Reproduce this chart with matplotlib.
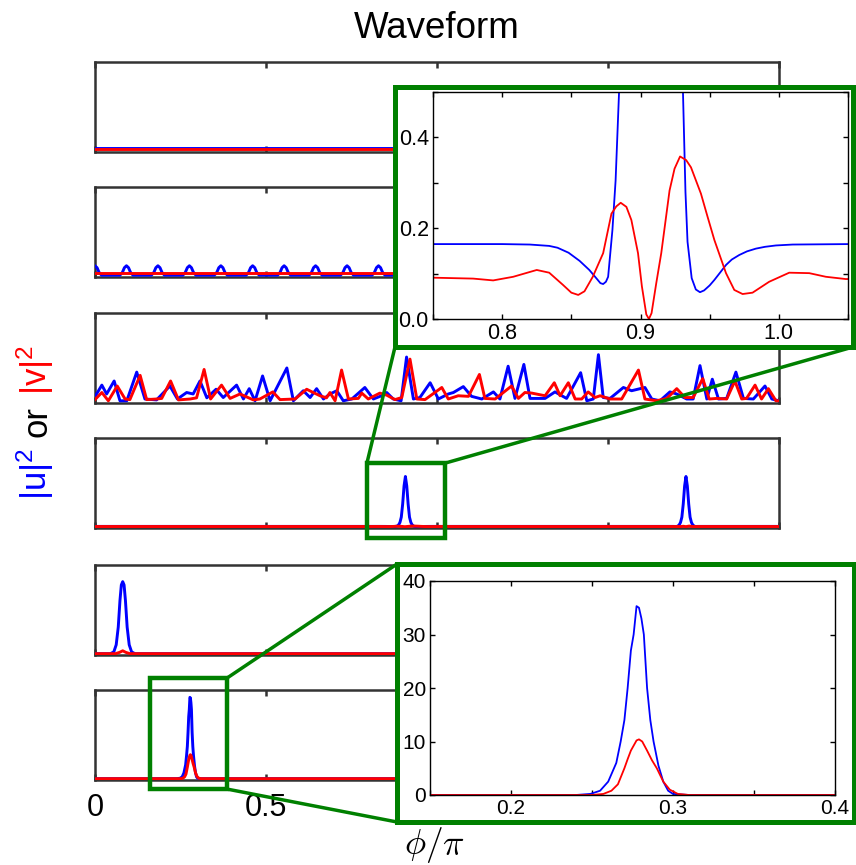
import matplotlib
matplotlib.use('Agg')
import matplotlib.pyplot as plt
from matplotlib.patches import Rectangle, ConnectionPatch
from matplotlib.ticker import MultipleLocator

plt.rcParams['font.family'] = ['Liberation Sans', 'DejaVu Sans']
plt.rcParams['mathtext.fontset'] = 'cm'

W, H = 856, 865
BLUE = '#0000ff'
RED = '#ff0000'
GREEN = '#008000'
FRAME = '#333333'

x_ticks = [0, 0.5, 1, 1.5, 2]
x_ticklabels = ['0', '0.5', '1', '1.5', '2']

# panel 1: flat continuous-wave background
p1_x = [0.0, 2.0]
p1_blue = [0.165, 0.165]
p1_red = [0.09, 0.09]

# panel 2: small periodic bumps on |u|^2, flat |v|^2
p2_bump_centers = [0.000, 0.092, 0.184, 0.276, 0.368, 0.461, 0.553, 0.645, 0.737, 0.829, 0.921,
                   1.013, 1.105, 1.197, 1.289, 1.382, 1.474, 1.566, 1.658, 1.750, 1.842, 1.934]
p2_bump_dx = [-0.019, -0.012, -0.006, 0.0, 0.006, 0.012, 0.019]
p2_bump_y = [0.03, 0.18, 0.45, 0.56, 0.45, 0.18, 0.03]
p2_red_x = [0.0, 2.0]
p2_red = [0.17, 0.17]

# panel 3: turbulent field
p3_blue = [(0.000, 0.17), (0.020, 0.56), (0.034, 0.26), (0.056, 0.70), (0.073, 0.03), (0.093, 0.03),
           (0.122, 1.00), (0.146, 0.09), (0.180, 0.06), (0.219, 0.53), (0.241, 0.09), (0.268, 0.31),
           (0.287, 0.26), (0.307, 0.70), (0.327, 0.13), (0.354, 0.42), (0.375, 0.14), (0.414, 0.56),
           (0.434, 0.09), (0.451, 0.44), (0.468, 0.03), (0.490, 0.87), (0.512, 0.03), (0.561, 1.14),
           (0.580, 0.03), (0.609, 0.37), (0.629, 0.14), (0.648, 0.44), (0.668, 0.09), (0.687, 0.26),
           (0.707, 0.37), (0.726, 0.03), (0.751, 0.09), (0.789, 0.48), (0.814, 0.09), (0.838, 0.20),
           (0.853, 0.31), (0.872, 0.09), (0.895, 0.03), (0.911, 1.51), (0.931, 0.09), (0.950, 0.14),
           (0.980, 0.64), (1.004, 0.09), (1.033, 0.26), (1.048, 0.31), (1.077, 0.51), (1.101, 0.18),
           (1.131, 0.09), (1.165, 0.33), (1.184, 0.09), (1.208, 1.20), (1.228, 0.11), (1.254, 1.26),
           (1.272, 0.11), (1.316, 0.11), (1.345, 0.33), (1.365, 0.20), (1.379, 0.11), (1.420, 0.98),
           (1.438, 0.03), (1.457, 0.09), (1.472, 1.59), (1.486, 0.14), (1.506, 0.11), (1.545, 0.48),
           (1.569, 0.37), (1.608, 0.48), (1.628, 0.09), (1.652, 0.03), (1.681, 0.33), (1.701, 0.26),
           (1.730, 0.09), (1.749, 0.09), (1.769, 1.22), (1.789, 0.09), (1.805, 0.76), (1.823, 0.09),
           (1.847, 0.11), (1.874, 1.00), (1.896, 0.11), (1.925, 0.09), (1.959, 0.53), (1.979, 0.09),
           (2.000, 0.03)]
p3_red = [(0.000, 0.07), (0.020, 0.31), (0.039, 0.03), (0.065, 0.53), (0.088, 0.09), (0.102, 0.07),
          (0.132, 0.89), (0.151, 0.07), (0.180, 0.09), (0.195, 0.11), (0.221, 0.70), (0.244, 0.06),
          (0.278, 0.09), (0.297, 0.13), (0.319, 1.09), (0.338, 0.09), (0.370, 0.56), (0.395, 0.11),
          (0.424, 0.26), (0.463, 0.06), (0.482, 0.09), (0.520, 0.33), (0.541, 0.07), (0.585, 0.09),
          (0.619, 0.42), (0.638, 0.31), (0.658, 0.20), (0.677, 0.13), (0.687, 0.31), (0.702, 0.03),
          (0.721, 1.07), (0.741, 0.09), (0.770, 0.11), (0.780, 0.29), (0.799, 0.09), (0.833, 0.29),
          (0.853, 0.22), (0.877, 0.07), (0.897, 0.14), (0.921, 1.44), (0.941, 0.09), (0.965, 0.07),
          (1.014, 0.48), (1.033, 0.09), (1.062, 0.20), (1.092, 0.18), (1.124, 0.92), (1.140, 0.11),
          (1.170, 0.09), (1.218, 0.53), (1.238, 0.11), (1.257, 0.31), (1.277, 0.29), (1.316, 0.20),
          (1.343, 0.64), (1.360, 0.20), (1.384, 0.64), (1.404, 0.09), (1.423, 0.09), (1.442, 0.33),
          (1.462, 0.14), (1.477, 0.20), (1.506, 0.09), (1.540, 0.09), (1.589, 1.07), (1.608, 0.09),
          (1.642, 0.03), (1.672, 0.11), (1.701, 0.44), (1.725, 0.14), (1.749, 0.14), (1.777, 0.78),
          (1.796, 0.09), (1.818, 0.11), (1.847, 0.09), (1.871, 0.70), (1.891, 0.09), (1.905, 0.11),
          (1.930, 0.56), (1.949, 0.09), (1.969, 0.44), (1.991, 0.03), (2.000, 0.03)]

# panel 4: two bright peaks on the background (zoomed in inset 1)
p4_blue = [(0.000, 0.165), (0.750, 0.165), (0.800, 0.165), (0.820, 0.164), (0.834, 0.161),
           (0.840, 0.157), (0.848, 0.146), (0.856, 0.128), (0.863, 0.108), (0.868, 0.090),
           (0.871, 0.079), (0.873, 0.077), (0.875, 0.082), (0.8766, 0.093), (0.8797, 0.196),
           (0.882, 0.305), (0.8845, 0.50), (0.8876, 1.0), (0.8916, 2.5), (0.8956, 5.7), (0.8996, 13.5),
           (0.9036, 24.3), (0.9076, 30.0), (0.9116, 24.3), (0.9156, 13.5), (0.9196, 5.7), (0.9236, 2.5),
           (0.9276, 1.0), (0.9307, 0.50), (0.9325, 0.28), (0.934, 0.17), (0.937, 0.09), (0.940, 0.065),
           (0.943, 0.059), (0.946, 0.063), (0.950, 0.074), (0.9534, 0.086), (0.958, 0.104),
           (0.9618, 0.119), (0.966, 0.131), (0.9714, 0.141), (0.977, 0.149), (0.9834, 0.155),
           (0.990, 0.159), (0.9979, 0.162), (1.010, 0.164), (1.050, 0.165),
           (1.690, 0.165), (1.697, 0.120), (1.701, 0.080), (1.7049, 0.50), (1.708, 1.0), (1.712, 2.5),
           (1.716, 5.7), (1.720, 13.5), (1.724, 24.3), (1.728, 30.0), (1.732, 24.3), (1.736, 13.5),
           (1.740, 5.7), (1.744, 2.5), (1.748, 1.0), (1.7511, 0.50), (1.755, 0.080), (1.762, 0.150),
           (1.772, 0.165), (2.000, 0.165)]
p4_red = [(0.000, 0.091), (0.750, 0.091), (0.779, 0.089), (0.7935, 0.085), (0.808, 0.093), (0.825, 0.108),
          (0.834, 0.102), (0.844, 0.075), (0.850, 0.058), (0.855, 0.053), (0.8595, 0.061), (0.8655, 0.093),
          (0.873, 0.145), (0.879, 0.232), (0.8825, 0.248), (0.8857, 0.256), (0.8898, 0.247),
          (0.8934, 0.218), (0.8982, 0.145), (0.901, 0.072), (0.9042, 0.010), (0.9061, 0.0),
          (0.908, 0.013), (0.9114, 0.079), (0.915, 0.145), (0.921, 0.283), (0.9246, 0.331),
          (0.9286, 0.358), (0.933, 0.350), (0.9365, 0.334), (0.9437, 0.276), (0.9485, 0.225),
          (0.9534, 0.174), (0.9618, 0.101), (0.9678, 0.064), (0.9738, 0.055), (0.981, 0.058),
          (0.993, 0.082), (1.0075, 0.102), (1.022, 0.101), (1.034, 0.093), (1.0484, 0.088),
          (1.100, 0.090), (1.700, 0.090), (1.712, 0.060), (1.720, 0.250), (1.728, 0.020), (1.737, 0.350),
          (1.750, 0.060), (1.765, 0.090), (2.000, 0.090)]

# panel 5: single soliton near phi/pi = 0.08
p5_blue = [(0.000, 0.0), (0.045, 0.0), (0.055, 0.8), (0.062, 4.0), (0.068, 12.0), (0.073, 24.0),
           (0.077, 31.0), (0.081, 32.5), (0.085, 31.0), (0.089, 24.0), (0.094, 12.0), (0.100, 4.0),
           (0.107, 0.8), (0.117, 0.0), (2.000, 0.0)]
p5_red = [(0.000, 0.0), (0.060, 0.0), (0.072, 0.6), (0.081, 1.3), (0.090, 0.6), (0.102, 0.0), (2.000, 0.0)]

# panel 6: soliton near phi/pi = 0.28 (zoomed in inset 2)
p6_blue = [(0.000, 0.0), (0.240, 0.0), (0.249, 0.2), (0.255, 0.8), (0.260, 2.5), (0.265, 6.0),
           (0.2677, 10.0), (0.270, 14.0), (0.272, 20.0), (0.274, 27.0), (0.2757, 30.0), (0.2775, 35.3),
           (0.279, 35.0), (0.2805, 33.0), (0.282, 30.0), (0.284, 20.0), (0.286, 14.0), (0.288, 10.0),
           (0.291, 5.5), (0.294, 2.5), (0.297, 0.8), (0.300, 0.2), (0.310, 0.0), (2.000, 0.0)]
p6_red = [(0.000, 0.0), (0.250, 0.0), (0.257, 0.2), (0.262, 0.8), (0.266, 2.0), (0.270, 5.0),
          (0.272, 6.7), (0.274, 8.3), (0.2775, 10.2), (0.279, 10.4), (0.281, 10.0), (0.284, 8.3),
          (0.287, 6.5), (0.290, 5.0), (0.294, 2.5), (0.298, 1.0), (0.303, 0.2), (0.310, 0.0), (2.000, 0.0)]

p2_blue_x, p2_blue_y = [], []
for c in p2_bump_centers:
    for dx, y in zip(p2_bump_dx, p2_bump_y):
        p2_blue_x.append(c + dx)
        p2_blue_y.append(y)


def unzip(pairs):
    return [p[0] for p in pairs], [p[1] for p in pairs]


p3_bx, p3_by = unzip(p3_blue)
p3_rx, p3_ry = unzip(p3_red)
p4_bx, p4_by = unzip(p4_blue)
p4_rx, p4_ry = unzip(p4_red)
p5_bx, p5_by = unzip(p5_blue)
p5_rx, p5_ry = unzip(p5_red)
p6_bx, p6_by = unzip(p6_blue)
p6_rx, p6_ry = unzip(p6_red)

panels = [
    (p1_x, p1_blue, p1_x, p1_red, 5.0),
    (p2_blue_x, p2_blue_y, p2_red_x, p2_red, 5.0),
    (p3_bx, p3_by, p3_rx, p3_ry, 3.0),
    (p4_bx, p4_by, p4_rx, p4_ry, 53.0),
    (p5_bx, p5_by, p5_rx, p5_ry, 40.0),
    (p6_bx, p6_by, p6_rx, p6_ry, 38.5),
]


def fbox(l, t, r, b):
    # pixel box -> figure fraction [left, bottom, width, height]
    return [l / W, 1 - b / H, (r - l) / W, (b - t) / H]


fig = plt.figure(figsize=(W / 100, H / 100), dpi=100)

panel_tops = [62, 187, 313, 438, 565, 690]
axs = []
for i, (bx, by, rx, ry, ymax) in enumerate(panels):
    top = panel_tops[i]
    ax = fig.add_axes(fbox(95, top, 779, top + 90))
    ax.plot(bx, by, color=BLUE, lw=2.1, zorder=3)
    ax.plot(rx, ry, color=RED, lw=2.1, zorder=3)
    ax.set_xlim(0, 2)
    ax.set_ylim(-0.015 * ymax, ymax)
    ax.set_yticks([])
    ax.set_xticks(x_ticks)
    ax.set_xticklabels(x_ticklabels)
    ax.tick_params(axis='x', direction='in', top=True, length=4, width=1.8, color=FRAME,
                   labelbottom=(i == 5), labelsize=22, pad=9)
    for s in ax.spines.values():
        s.set_linewidth(1.8)
        s.set_color(FRAME)
    axs.append(ax)

fig.text(437 / W, 1 - 29 / H, 'Waveform', ha='center', va='center', fontsize=26.5)
fig.text(434 / W, 1 - 845 / H, r'$\phi/\pi$', ha='center', va='center', fontsize=25.5)

# colored y label built from three rotated pieces
renderer = fig.canvas.get_renderer()
ypos = 1 - 500 / H
for s, c in [(r'$\mathregular{|u|^2}$', BLUE), ('or', 'black'), (r'$\mathregular{|v|^2}$', RED)]:
    t = fig.text(47 / W, ypos, s, color=c, rotation=90, rotation_mode='anchor',
                 ha='left', va='baseline', fontsize=25)
    bb = t.get_window_extent(renderer=renderer)
    ypos = (bb.y1 + 11) / H


def make_inset(outer, inner, xlim, ylim, xmajor, xminor, ymajor, yminor, fmt_x, fmt_y, fs):
    rect = Rectangle((outer[0], outer[1]), outer[2], outer[3], transform=fig.transFigure,
                     facecolor='white', edgecolor=GREEN, lw=3.6, zorder=5)
    fig.add_artist(rect)
    ax = fig.add_axes(inner, zorder=6)
    ax.set_xlim(*xlim)
    ax.set_ylim(*ylim)
    ax.xaxis.set_major_locator(MultipleLocator(xmajor))
    ax.xaxis.set_minor_locator(MultipleLocator(xminor))
    ax.yaxis.set_major_locator(MultipleLocator(ymajor))
    ax.yaxis.set_minor_locator(MultipleLocator(yminor))
    ax.xaxis.set_major_formatter(fmt_x)
    ax.yaxis.set_major_formatter(fmt_y)
    ax.tick_params(which='both', direction='in', top=True, right=True, length=3.6, width=1.0,
                   labelsize=fs, pad=3)
    for s in ax.spines.values():
        s.set_linewidth(1.0)
        s.set_color('black')
    return ax


outer1 = fbox(395, 87, 853, 347)
ins1 = make_inset(outer1, fbox(433, 92, 848, 319), (0.75, 1.05), (0, 0.5),
                  0.1, 0.05, 0.2, 0.1, '{x:.1f}', '{x:.1f}', 15.5)
ins1.plot(p4_bx, p4_by, color=BLUE, lw=1.3)
ins1.plot(p4_rx, p4_ry, color=RED, lw=1.3)

outer2 = fbox(397, 564, 854, 822)
ins2 = make_inset(outer2, fbox(430, 581, 835, 795), (0.15, 0.4), (0, 40),
                  0.1, 0.05, 10, 10, '{x:.1f}', '{x:.0f}', 15)
ins2.plot(p6_bx, p6_by, color=BLUE, lw=1.3)
ins2.plot(p6_rx, p6_ry, color=RED, lw=1.3)

# zoom boxes and connectors
ax4, ax6 = axs[3], axs[5]
ax4.add_patch(Rectangle((0.795, -0.11), 0.228, 0.83, transform=ax4.get_xaxis_transform(),
                        fill=False, edgecolor=GREEN, lw=3.2, clip_on=False, zorder=5))
ax6.add_patch(Rectangle((0.161, -0.10), 0.224, 1.23, transform=ax6.get_xaxis_transform(),
                        fill=False, edgecolor=GREEN, lw=3.2, clip_on=False, zorder=5))

connectors = [
    (ax4, (0.795, 0.72), (outer1[0], outer1[1])),
    (ax4, (1.023, 0.72), (outer1[0] + outer1[2], outer1[1])),
    (ax6, (0.385, 1.13), (outer2[0], outer2[1] + outer2[3])),
    (ax6, (0.385, -0.10), (outer2[0], outer2[1])),
]
for ax, pa, pb in connectors:
    cp = ConnectionPatch(pa, pb, coordsA=ax.get_xaxis_transform(), coordsB=fig.transFigure,
                         color=GREEN, lw=2.5, zorder=4)
    fig.add_artist(cp)

fig.savefig('out.png', dpi=100)
